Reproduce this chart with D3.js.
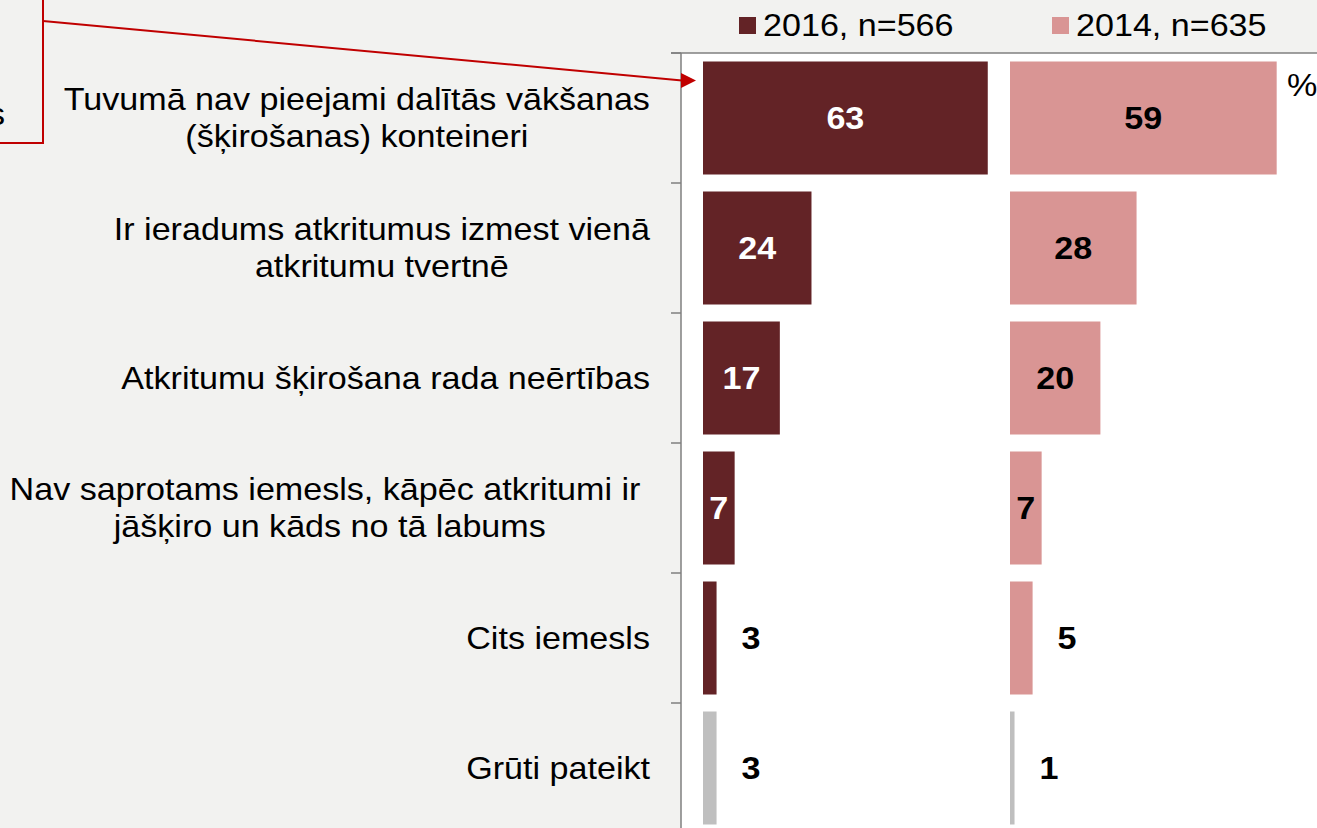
<!DOCTYPE html>
<html>
<head>
<meta charset="utf-8">
<script src="https://cdn.jsdelivr.net/npm/d3@7/dist/d3.min.js"></script>
<style>
  html, body { margin: 0; padding: 0; background: #f2f2f0; }
  svg { display: block; }
  text { font-family: "Liberation Sans", Arial, sans-serif; white-space: pre; }
</style>
</head>
<body>
<svg id="chart" width="1317" height="828"></svg>
<script>
// ---- data ----
const categories = [
  ["Tuvumā nav pieejami dalītās vākšanas", "(šķirošanas) konteineri"],
  ["Ir ieradums atkritumus izmest vienā", "atkritumu tvertnē"],
  ["Atkritumu šķirošana rada neērtības"],
  ["Nav saprotams iemesls, kāpēc atkritumi ir ", "jāšķiro un kāds no tā labums"],
  ["Cits iemesls"],
  ["Grūti pateikt"]
];
const seriesNames = ["2016, n=566", "2014, n=635"];
const values2016 = [63, 24, 17, 7, 3, 3];
const values2014 = [59, 28, 20, 7, 5, 1];
const unitLabel = "%";

// ---- layout ----
const W = 1317, H = 828;
const svg = d3.select("#chart");
const SX = 1.1; // horizontal stretch of text in the reference
const FS = 31;

const keys = categories.map((c, i) => i);
const y = d3.scaleBand().domain(keys).range([53, 833]).paddingInner(17 / 130).paddingOuter(8.5 / 130);
const step = y.step();
const axisX = 681;
const x2016 = d3.scaleLinear().domain([0, 100]).range([703, 703 + 452]);
const x2014 = d3.scaleLinear().domain([0, 100]).range([1010, 1010 + 452]);

const colors = { s2016: "#632326", s2014: "#d99594", other: "#bfbfbf" };

function stext(g, x, yy, str, opts = {}) {
  const t = g.append("text")
    .attr("transform", `translate(${x},${yy}) scale(${SX},1)`)
    .attr("font-size", opts.size || FS)
    .attr("font-weight", opts.weight || "normal")
    .attr("fill", opts.fill || "#000")
    .attr("text-anchor", opts.anchor || "start")
    .attr("dy", opts.dy != null ? opts.dy : "0.35em")
    .text(str);
  return t;
}

// background
svg.append("rect").attr("width", W).attr("height", H).attr("fill", "#f2f2f0");
// plot area
svg.append("rect").attr("x", axisX).attr("y", 53).attr("width", W - axisX).attr("height", H - 53).attr("fill", "#ffffff");

// top border and axis
const axisColor = "#7f7f7f";
svg.append("line").attr("x1", 671).attr("x2", W).attr("y1", 53).attr("y2", 53).attr("stroke", axisColor).attr("stroke-width", 1.5);
svg.append("line").attr("x1", axisX).attr("x2", axisX).attr("y1", 53).attr("y2", H).attr("stroke", axisColor).attr("stroke-width", 1.5);
// ticks at band boundaries
keys.forEach(k => {
  const ty = y(k) - y.paddingOuter() * step;
  svg.append("line").attr("x1", 671).attr("x2", axisX).attr("y1", ty).attr("y2", ty)
    .attr("stroke", axisColor).attr("stroke-width", 1.5);
});

// category labels
const labelG = svg.append("g");
categories.forEach((lines, i) => {
  const cy = y(i) + y.bandwidth() / 2;
  const lh = 37;
  if (lines.length === 1) {
    stext(labelG, 650, cy, lines[0], { anchor: "end" });
  } else {
    // lines centred with each other, block right aligned at 650
    const tmp = labelG.append("text").attr("font-size", FS).text(lines[0]);
    const w0 = tmp.node().getComputedTextLength() * SX;
    tmp.remove();
    const cx = 650 - w0 / 2;
    lines.forEach((ln, j) => {
      stext(labelG, cx, cy + (j - (lines.length - 1) / 2) * lh, ln, { anchor: "middle" });
    });
  }
});

// bars
function drawSeries(vals, xs, fill, insideColor) {
  const g = svg.append("g");
  vals.forEach((v, i) => {
    const isOther = i === categories.length - 1;
    g.append("rect")
      .attr("x", xs(0)).attr("y", y(i))
      .attr("width", xs(v) - xs(0)).attr("height", y.bandwidth())
      .attr("fill", isOther ? colors.other : fill);
    const cy = y(i) + y.bandwidth() / 2;
    if (v >= 7 && !isOther) {
      stext(g, (xs(0) + xs(v)) / 2, cy, String(v), { anchor: "middle", weight: "bold", fill: insideColor });
    } else {
      stext(g, xs(v) + 25, cy, String(v), { anchor: "start", weight: "bold", fill: "#000" });
    }
  });
}
drawSeries(values2016, x2016, colors.s2016, "#ffffff");
drawSeries(values2014, x2014, colors.s2014, "#000000");

// unit
stext(svg, 1287, 85, unitLabel, {});

// legend
const legendX = [739, 1052];
const legendColors = [colors.s2016, colors.s2014];
seriesNames.forEach((name, i) => {
  svg.append("rect").attr("x", legendX[i]).attr("y", 17).attr("width", 17).attr("height", 17).attr("fill", legendColors[i]);
  stext(svg, legendX[i] + 24, 25, name, {});
});

// red annotation callout
const red = "#c00000";
svg.append("path").attr("d", "M0,143 L43,143 L43,0").attr("fill", "none").attr("stroke", red).attr("stroke-width", 2);
svg.append("line").attr("x1", 43).attr("y1", 21).attr("x2", 682).attr("y2", 80.5).attr("stroke", red).attr("stroke-width", 2);
svg.append("path").attr("d", "M681,73 L696,80.5 L681,88 Z").attr("fill", red);
stext(svg, 5, 114, "s", { anchor: "end" });
</script>
</body>
</html>
